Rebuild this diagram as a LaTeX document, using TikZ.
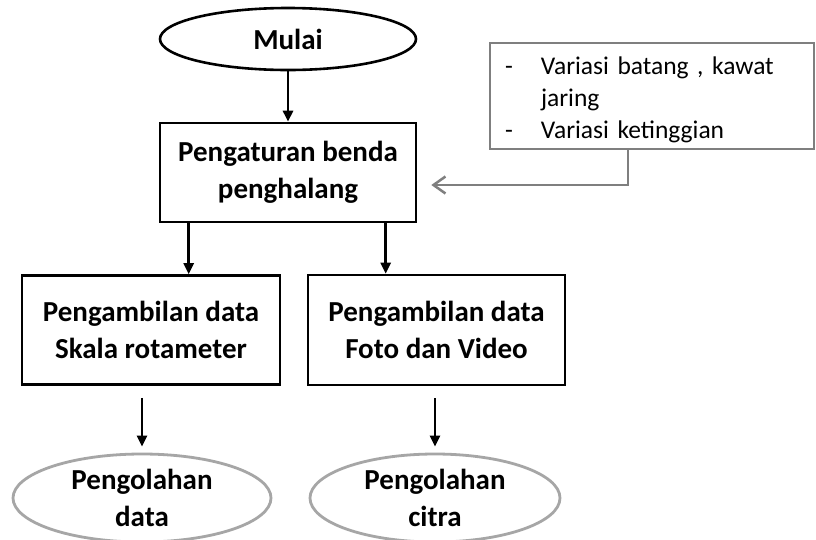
\documentclass[tikz,border=0pt]{standalone}
\usepackage{fontspec}
\setmainfont{Carlito}
\usetikzlibrary{shapes.geometric,arrows.meta}
\definecolor{noteGray}{HTML}{7F7F7F}
\definecolor{ellGray}{HTML}{A6A6A6}
\begin{document}
\begin{tikzpicture}[x=1pt,y=-1pt,
  bt/.style={font=\fontsize{29}{37.5}\selectfont\bfseries, align=center},
  procbox/.style={bt, draw=black, line width=2.6pt, inner sep=0pt, rectangle},
  startell/.style={bt, ellipse, draw=black, line width=2.6pt, inner sep=0pt},
  endell/.style={bt, ellipse, draw=ellGray, line width=2.8pt, inner sep=0pt},
  notebox/.style={draw=noteGray, line width=2.5pt, rectangle, inner sep=0pt,
    minimum width=324pt, minimum height=106pt},
  notetext/.style={inner sep=0pt, font=\fontsize{25.5}{32}\selectfont, align=left, text width=294pt},
  flow/.style={line width=2.6pt, -{Triangle[width=10pt,length=11pt]}},
  gflow/.style={draw=noteGray, line width=2.5pt, -{Straight Barb[length=12pt,width=17pt,line width=2.5pt]}}
]
\useasboundingbox (0,0) rectangle (816,539);
\fill[white] (0,0) rectangle (816,539);

\node[startell, minimum width=256pt, minimum height=62pt] (mulai) at (288,39) {Mulai};
\node[procbox, minimum width=256pt, minimum height=99pt] (setup) at (288,172.5) {Pengaturan benda\\penghalang};
\node[procbox, minimum width=258pt, minimum height=109pt] (lbox) at (151,330) {Pengambilan data\\Skala rotameter};
\node[procbox, minimum width=257pt, minimum height=110pt] (rbox) at (436.5,330) {Pengambilan data\\Foto dan Video};
\node[endell, minimum width=258pt, minimum height=88pt] (lend) at (142,498) {Pengolahan\\data};
\node[endell, minimum width=250pt, minimum height=88pt] (rend) at (435,498) {Pengolahan\\citra};
\node[notebox] (note) at (652,96) {};
\node[notetext] (notetxt) at (652,100) {\makebox[36pt][l]{-}Variasi batang , kawat\\\hspace*{36pt}jaring\\\makebox[36pt][l]{-}Variasi ketinggian};

\draw[flow] (mulai.south) -- (setup.north);
\draw[flow] ([xshift=30pt]setup.south west) coordinate (s1) -- (s1 |- lbox.north);
\draw[flow] ([xshift=227pt]setup.south west) coordinate (s2) -- (s2 |- rbox.north);
\draw[flow] ([yshift=-12pt]lbox.south -| lend.north) -- ([yshift=6pt]lend.north);
\draw[flow] ([yshift=-12pt]rbox.south -| rend.north) -- ([yshift=6pt]rend.north);
\draw[gflow] ([xshift=-24pt]note.south) |- ([xshift=14pt,yshift=-12.5pt]setup.east);
\end{tikzpicture}
\end{document}
